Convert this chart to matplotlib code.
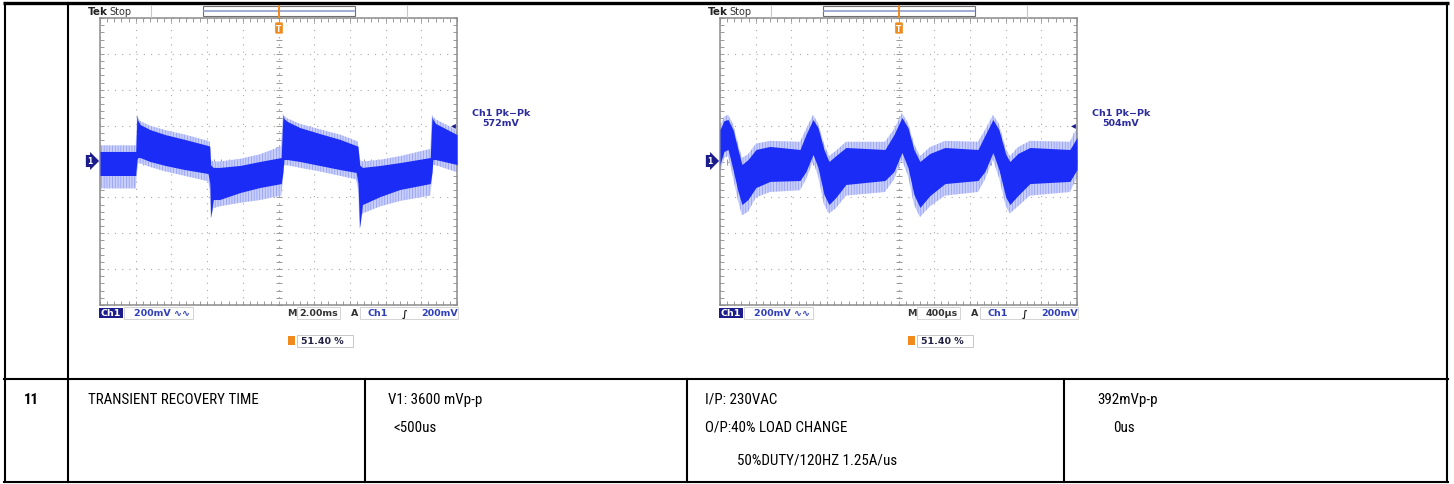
import numpy as np
import matplotlib.pyplot as plt
from matplotlib import font_manager as fm
from matplotlib.patches import Rectangle
from matplotlib.ticker import MultipleLocator

W, H = 1454, 485

# left scope: 2 ms/div, 200 mV/div (time in ms, level in mV)
left_t = [0, 2.0, 2.07, 2.12, 2.25, 2.8, 3.65, 4.75, 6.05, 6.15, 6.2, 6.35, 6.7,
          7.85, 8.95, 10.15, 10.25, 10.3, 10.5, 11.2, 12.3, 13.45, 14.35, 14.45,
          14.55, 14.7, 15.7, 16.8, 18.5, 18.6, 18.65, 18.8, 20.0]
left_top = [56, 56, 250, 230, 206, 178, 150, 123, 89, 85, -20, -33, -33,
            -22, 0, 22, 262, 240, 223, 189, 156, 123, 89, 85,
            -20, -33, -22, -6, 22, 251, 235, 212, 150]
left_bot = [-78, -78, 10, 22, 22, 0, -22, -45, -67, -120, -312, -212, -212,
            -173, -145, -123, -60, 11, 11, 0, -22, -45, -61, -120,
            -368, -240, -195, -156, -123, -60, 11, 11, -17]
left_fuzz_top = [90, 90, 262, 250, 225, 200, 175, 150, 115, 110, 10, 0, 0,
                 15, 40, 85, 270, 255, 240, 210, 180, 150, 115, 110,
                 10, 0, 10, 30, 70, 262, 250, 235, 175]
left_fuzz_bot = [-150, -150, -60, -10, -10, -30, -55, -80, -110, -150, -320, -260, -250,
                 -230, -215, -190, -100, -20, -20, -35, -55, -80, -100, -150,
                 -375, -290, -250, -220, -190, -100, -20, -20, -60]

# right scope: 400 us/div, 200 mV/div (time in us, level in mV)
right_t = [0, 45, 90, 146, 202, 246, 314, 403, 560, 896, 963, 1042, 1098, 1165,
           1221, 1299, 1411, 1848, 1949, 2038, 2106, 2173, 2240, 2352, 2520,
           2890, 2968, 3058, 3125, 3203, 3248, 3338, 3472, 3920, 4000]
right_top = [178, 228, 234, 178, 67, -17, 11, 67, 84, 67, 150, 234, 189, 67,
             0, 33, 78, 67, 150, 245, 189, 67, 0, 45, 78,
             67, 145, 234, 178, 39, 0, 45, 78, 67, 134]
right_bot = [-17, 56, 67, -45, -167, -240, -212, -145, -111, -106, -56, 39, -33, -184,
             -240, -200, -128, -106, -56, 50, -33, -184, -256, -190, -123,
             -106, -56, 50, -45, -200, -240, -190, -123, -111, -45]
right_fuzz_top = [200, 250, 260, 210, 100, 20, 40, 100, 115, 110, 180, 260, 215, 100,
                  30, 60, 110, 110, 180, 270, 215, 100, 30, 80, 115,
                  110, 175, 260, 210, 70, 30, 80, 115, 110, 190]
right_fuzz_bot = [-60, 20, 30, -90, -220, -300, -280, -200, -170, -160, -100, 0, -80, -240,
                  -290, -260, -190, -170, -100, 10, -80, -240, -310, -250, -190,
                  -170, -100, 10, -90, -250, -290, -250, -190, -170, -90]

# table row text
item_no = '11'
item_name = 'TRANSIENT RECOVERY TIME'
spec_lines = ['V1: 3600 mVp-p', '<500us']
cond_lines = ['I/P: 230VAC', 'O/P:40% LOAD CHANGE', '50%DUTY/120HZ 1.25A/us']
result_lines = ['392mVp-p', '0us']

SCOPE_FONT = ['DejaVu Sans']
TRACE = '#1a2cf5'
FUZZ = '#8d99f8'
NAVY = '#1c1c8c'
LBLUE = '#3040b8'
ORANGE = '#f08a1c'

plt.rcParams['hatch.linewidth'] = 0.5


def pick_table_font():
    # the table uses an Arial Narrow style face; take a condensed one if present
    fonts = fm.fontManager.ttflist
    for want in ['Liberation Sans Narrow', 'Arial Narrow', 'Roboto Condensed',
                 'Open Sans Condensed', 'DejaVu Sans Condensed', 'Noto Sans Condensed']:
        if any(f.name == want for f in fonts):
            return want, 'normal'
    for fam in ['Liberation Sans', 'Roboto', 'Open Sans', 'Noto Sans', 'DejaVu Sans']:
        if any(f.name == fam and str(f.stretch) in ('condensed', 'semi-condensed')
               for f in fonts):
            return fam, 'condensed'
    return 'Liberation Sans', 'normal'


table_family, table_stretch = pick_table_font()

fig = plt.figure(figsize=(W / 100, H / 100), dpi=100)
base = fig.add_axes([0, 0, 1, 1])
base.set_xlim(0, W)
base.set_ylim(H, 0)
base.axis('off')
base.set_zorder(5)

# size the table font so the item name spans the same width as in the scan
probe = base.text(0, 0, item_name, family=[table_family, 'DejaVu Sans'],
                  fontstretch=table_stretch, fontsize=10)
probe_w = probe.get_window_extent(fig.canvas.get_renderer()).width
probe.remove()
table_size = min(11.0, 10.0 * 172 / probe_w)


def px_rect(x0, y0, x1, y1):
    return [x0 / W, 1 - y1 / H, (x1 - x0) / W, (y1 - y0) / H]


# table grid
base.plot([3, 1449], [4, 4], color='black', lw=2.4, solid_capstyle='butt')
for y in [380, 483]:
    base.plot([4, 1448], [y, y], color='black', lw=1.5)
for x in [5, 68, 1447]:
    base.plot([x, x], [4, 483], color='black', lw=1.5)
for x in [365, 687, 1064]:
    base.plot([x, x], [380, 483], color='black', lw=1.5)

# table row text
tkw = dict(family=[table_family, 'DejaVu Sans'], fontstretch=table_stretch,
           fontsize=table_size, va='center', ha='left', color='black')
base.text(31, 400, item_no, **{**tkw, 'ha': 'center', 'fontweight': 'bold'})
base.text(88, 400, item_name, **tkw)
base.text(388, 400, spec_lines[0], **tkw)
base.text(393, 428, spec_lines[1], **tkw)
base.text(705, 400, cond_lines[0], **tkw)
base.text(705, 428, cond_lines[1], **tkw)
base.text(737, 461, cond_lines[2], **tkw)
base.text(1097, 400, result_lines[0], **tkw)
base.text(1113, 428, result_lines[1], **tkw)


def draw_scope(gl, t, top, bot, ftop, fbot, xmax, time_label, pk_label):
    ax = fig.add_axes(px_rect(gl, 19, gl + 357, 306))
    ax.set_facecolor('white')
    ax.set_xlim(0, xmax)
    ax.set_ylim(-800, 800)
    div = xmax / 10
    ax.xaxis.set_major_locator(MultipleLocator(div))
    ax.xaxis.set_minor_locator(MultipleLocator(div / 5))
    ax.yaxis.set_major_locator(MultipleLocator(200))
    ax.yaxis.set_minor_locator(MultipleLocator(40))
    ax.tick_params(which='both', direction='in', top=True, right=True,
                   length=3, width=0.7, color='#9a9a9a',
                   labelbottom=False, labelleft=False)
    ax.grid(True, which='major', color='#a8a8a8', lw=0.8, ls=(0, (1, 5.5)))
    ax.set_axisbelow(True)
    for s in ax.spines.values():
        s.set_color('#8c8c8c')
        s.set_linewidth(1.1)
    # centre lines with fine ticks
    ax.axhline(0, color='#a0a0a0', lw=0.8, ls=(0, (1, 5.5)), zorder=0.5)
    ax.axvline(xmax / 2, color='#a0a0a0', lw=0.8, ls=(0, (1, 5.5)), zorder=0.5)
    hx = np.arange(0, xmax + div / 10, div / 5)
    vy = np.arange(-800, 801, 40)
    ax.plot(hx, np.zeros_like(hx), ls='none', marker='|', ms=4, mew=0.7,
            color='#9a9a9a', zorder=0.6)
    ax.plot(np.full_like(vy, xmax / 2, dtype=float), vy, ls='none', marker='_',
            ms=4, mew=0.7, color='#9a9a9a', zorder=0.6)
    # noisy envelope: pale fill with fine vertical hatch, then the dense core
    ax.fill_between(t, ftop, fbot, facecolor='#c9cffb', edgecolor=FUZZ,
                    hatch='||||||', lw=0, zorder=2)
    ax.fill_between(t, top, bot, color=TRACE, lw=0, zorder=3)

    # top status bar
    base.text(gl - 12, 12, 'Tek', family=SCOPE_FONT, fontsize=7.5,
              fontweight='bold', color='#222', va='center', ha='left')
    base.text(gl + 9, 12, 'Stop', family=SCOPE_FONT, fontsize=7,
              color='#333', va='center', ha='left')
    for sx in [gl + 51, gl + 307]:
        base.plot([sx, sx], [6, 18], color='#c8c8c8', lw=0.8)
    base.add_patch(Rectangle((gl + 103, 7), 152, 10, fill=False,
                             ec='#707070', lw=0.8))
    base.plot([gl + 104, gl + 254], [12, 12], color='#8f9fd0', lw=1.2)
    base.plot([gl + 179, gl + 179], [7, 18], color=ORANGE, lw=1.4)
    base.text(gl + 179, 29, 'T', family=SCOPE_FONT, fontsize=5.5,
              fontweight='bold', color='white', ha='center', va='center',
              bbox=dict(boxstyle='round,pad=0.15', fc=ORANGE, ec='none'))

    # ground marker and level arrow
    base.text(gl - 10, 162, '1', family=SCOPE_FONT, fontsize=5.5,
              fontweight='bold', color='white', ha='center', va='center',
              bbox=dict(boxstyle='rarrow,pad=0.2', fc=NAVY, ec='none'))
    base.text(gl + 353, 125, '\u25c2', family=SCOPE_FONT, fontsize=7,
              color=NAVY, ha='center', va='center')
    base.text(gl + 401, 113, 'Ch1 Pk\u2212Pk', family=SCOPE_FONT, fontsize=6.8,
              fontweight='bold', color='#2b2b9e', ha='center', va='center')
    base.text(gl + 401, 124, pk_label, family=SCOPE_FONT, fontsize=6.8,
              fontweight='bold', color='#2b2b9e', ha='center', va='center')

    # bottom readout bar
    skw = dict(family=SCOPE_FONT, fontsize=6.8, fontweight='bold', va='center',
               ha='left')
    base.add_patch(Rectangle((gl - 1, 309), 24, 10, fc=NAVY, ec='none'))
    base.text(gl + 11, 314, 'Ch1', color='white', **{**skw, 'ha': 'center'})
    base.add_patch(Rectangle((gl + 24, 308), 69, 12, fill=False,
                             ec='#d4d4d4', lw=0.7))
    base.text(gl + 34, 314, '200mV \u223f\u223f', color=LBLUE, **skw)
    base.text(gl + 187, 314, 'M', color='#333', **skw)
    base.add_patch(Rectangle((gl + 197, 308), 43, 12, fill=False,
                             ec='#d4d4d4', lw=0.7))
    base.text(gl + 238, 314, time_label, color='#333', **{**skw, 'ha': 'right'})
    base.text(gl + 251, 314, 'A', color='#333', **skw)
    base.add_patch(Rectangle((gl + 260, 308), 98, 12, fill=False,
                             ec='#d4d4d4', lw=0.7))
    base.text(gl + 268, 314, 'Ch1', color=LBLUE, **skw)
    base.text(gl + 305, 314, '\u222b', color='#222', **{**skw, 'ha': 'center'})
    base.text(gl + 358, 314, '200mV', color=LBLUE, **{**skw, 'ha': 'right'})
    base.add_patch(Rectangle((gl + 188, 337), 7, 9, fc=ORANGE, ec='none'))
    base.add_patch(Rectangle((gl + 197, 336), 56, 12, fill=False,
                             ec='#c8c8c8', lw=0.7))
    base.text(gl + 201, 342, '51.40 %', color='#222244', **skw)
    return ax


draw_scope(100, left_t, left_top, left_bot, left_fuzz_top, left_fuzz_bot,
           20, '2.00ms', '572mV')
draw_scope(720, right_t, right_top, right_bot, right_fuzz_top, right_fuzz_bot,
           4000, '400\u00b5s', '504mV')

fig.savefig('out.png', dpi=100)
